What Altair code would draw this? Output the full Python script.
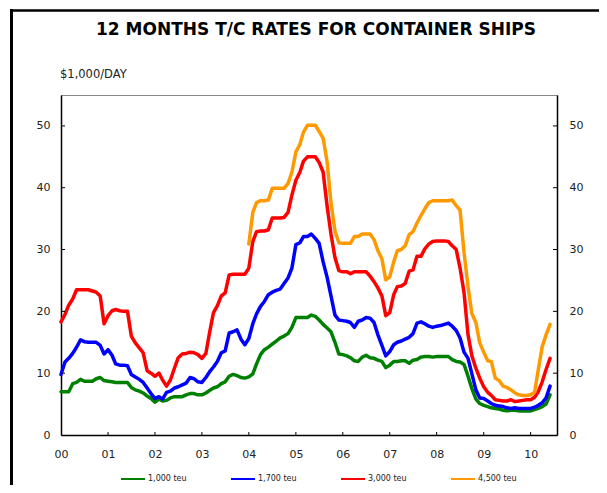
import altair as alt
import pandas as pd

# ---- data (monthly, Jan 2000 - Jun 2010) ----
MONTHS = pd.date_range("2000-01-01", periods=126, freq="MS")
SERIES = ["1,000 teu", "1,700 teu", "3,000 teu", "4,500 teu"]
COLORS = ["#008000", "#0000ff", "#ff0000", "#ff9900"]

TEU_1000 = [
    7.0, 7.0, 7.0, 8.3, 8.5, 9.0, 8.7, 8.7, 8.7, 9.1,
    9.3, 8.8, 8.7, 8.6, 8.5, 8.5, 8.5, 8.5, 7.7, 7.3,
    7.1, 6.8, 6.3, 5.9, 5.3, 5.8, 5.5, 5.6, 6.0, 6.2,
    6.2, 6.2, 6.5, 6.7, 6.7, 6.5, 6.5, 6.8, 7.2, 7.6,
    7.8, 8.3, 8.6, 9.5, 9.8, 9.6, 9.3, 9.2, 9.4, 9.9,
    11.5, 13.0, 13.8, 14.2, 14.7, 15.2, 15.7, 16.0, 16.4, 17.4,
    19.0, 19.0, 19.0, 19.0, 19.4, 19.2, 18.6, 17.9, 17.3, 16.7,
    15.0, 13.1, 13.0, 12.8, 12.5, 12.0, 11.9, 12.6, 12.9, 12.5,
    12.4, 12.1, 11.9, 10.9, 11.3, 11.9, 11.9, 12.0, 12.0, 11.6,
    12.1, 12.2, 12.6, 12.7, 12.7, 12.6, 12.7, 12.7, 12.7, 12.7,
    12.2, 11.9, 11.8, 11.4, 9.5, 7.5, 5.8, 5.1, 4.8, 4.6,
    4.4, 4.3, 4.2, 4.0, 3.9, 4.0, 4.0, 3.9, 3.9, 3.9,
    3.9, 4.1, 4.3, 4.6, 5.0, 6.5,
]
TEU_1700 = [
    9.8, 11.8, 12.4, 13.2, 14.2, 15.4, 15.1, 15.0, 15.0, 15.0,
    14.5, 13.1, 13.8, 12.9, 11.5, 11.3, 11.3, 11.2, 9.8, 9.4,
    9.0, 8.5, 7.6, 6.7, 5.9, 6.2, 5.8, 6.9, 7.1, 7.6,
    7.8, 8.1, 8.4, 9.3, 9.1, 8.6, 8.5, 9.3, 10.2, 11.0,
    11.9, 13.3, 13.6, 16.5, 16.7, 17.0, 15.5, 14.6, 15.6, 18.0,
    19.6, 20.8, 21.6, 22.7, 23.1, 23.4, 23.6, 24.5, 25.4, 27.0,
    30.8, 31.1, 32.1, 32.1, 32.5, 31.8, 31.0, 28.0, 25.5, 22.5,
    19.4, 18.6, 18.5, 18.4, 18.2, 17.4, 18.4, 18.6, 19.0, 18.9,
    18.2, 16.2, 14.5, 12.8, 13.5, 14.6, 15.0, 15.2, 15.5, 15.8,
    16.4, 18.1, 18.3, 18.0, 17.6, 17.4, 17.6, 17.7, 17.9, 18.1,
    17.6, 16.9, 15.7, 13.4, 12.4, 9.9, 7.3, 6.0, 5.9, 5.5,
    5.1, 4.8, 4.7, 4.6, 4.4, 4.3, 4.4, 4.3, 4.3, 4.3,
    4.3, 4.5, 4.8, 5.2, 6.0, 7.9,
]
TEU_3000 = [
    18.3, 19.5, 21.0, 22.0, 23.5, 23.5, 23.5, 23.5, 23.3, 23.1,
    22.5, 18.0, 19.3, 20.1, 20.3, 20.1, 20.0, 20.0, 16.0, 14.9,
    14.1, 13.3, 10.4, 10.0, 9.5, 10.0, 8.9, 7.9, 8.9, 10.8,
    12.5, 13.1, 13.2, 13.4, 13.3, 13.0, 12.4, 13.2, 16.5, 19.8,
    20.9, 22.5, 23.0, 25.9, 26.0, 26.0, 26.0, 26.0, 27.0, 31.3,
    32.9, 33.0, 33.0, 33.2, 35.1, 35.1, 35.1, 35.2, 36.0, 38.8,
    41.2, 42.5, 44.3, 45.0, 45.0, 45.0, 44.1, 42.5, 37.0, 32.5,
    28.7, 26.6, 26.4, 26.4, 26.1, 26.4, 26.4, 26.4, 26.4, 25.7,
    24.8, 23.8, 22.5, 19.3, 19.8, 22.7, 24.0, 24.1, 24.5, 26.5,
    26.7, 28.9, 28.9, 30.1, 30.9, 31.3, 31.4, 31.4, 31.4, 31.3,
    30.6, 30.0, 27.0, 23.0, 16.2, 12.8, 10.8, 9.2, 7.8, 6.9,
    6.4, 5.7, 5.6, 5.5, 5.5, 5.7, 5.4, 5.5, 5.6, 5.7,
    5.7, 6.1, 7.0, 8.6, 10.6, 12.4,
]
TEU_4500_START = 48  # series begins Jan 2004
TEU_4500 = [
    30.9, 36.0,
    37.6, 37.9, 37.9, 38.0, 39.9, 39.9, 39.9, 39.9, 40.7, 42.5,
    45.8, 47.0, 49.0, 50.1, 50.1, 50.1, 49.1, 48.0, 44.2, 37.6,
    33.0, 31.1, 31.0, 31.0, 31.0, 32.1, 32.1, 32.5, 32.5, 32.5,
    31.6, 29.8, 28.5, 25.1, 25.6, 28.0, 29.8, 30.0, 30.6, 32.4,
    32.9, 34.3, 35.5, 36.6, 37.6, 37.9, 37.9, 37.9, 37.9, 37.9,
    38.0, 37.1, 36.4, 29.5, 24.0, 19.6, 18.2, 14.9, 13.4, 12.0,
    11.9, 9.2, 8.8, 7.9, 7.7, 7.3, 6.8, 6.5, 6.4, 6.4,
    6.5, 6.9, 10.5, 14.3, 16.2, 17.9,
]
YEAR_TICKS = list(range(2000, 2011))
Y_TICKS = [0, 10, 20, 30, 40, 50]
TITLE = "12 MONTHS T/C RATES FOR CONTAINER SHIPS"
UNIT = "$1,000/DAY"

rows = []
for name, vals, start in [
    (SERIES[0], TEU_1000, 0),
    (SERIES[1], TEU_1700, 0),
    (SERIES[2], TEU_3000, 0),
    (SERIES[3], TEU_4500, TEU_4500_START),
]:
    for i, v in enumerate(vals):
        rows.append({"date": MONTHS[start + i], "value": v, "series": name})
df = pd.DataFrame(rows)

W, H = 496, 340
FONT = "DejaVu Sans"
x_domain = [alt.DateTime(year=2000, month=1, date=1), alt.DateTime(year=2010, month=7, date=25)]
x_scale = alt.Scale(domain=x_domain)
y_scale = alt.Scale(domain=[0, 55], nice=False, zero=True)

x_axis = alt.Axis(
    values=[alt.DateTime(year=y, month=1, date=1) for y in YEAR_TICKS],
    format="%y", title=None, ticks=False, labelPadding=13,
    labelFlush=False, labelOverlap=False, domainColor="black", domainWidth=1.5,
)

lines = alt.Chart(df).mark_line(strokeWidth=3.5, strokeJoin="round", strokeCap="round").encode(
    x=alt.X("date:T", scale=x_scale, axis=x_axis),
    y=alt.Y("value:Q", scale=y_scale, axis=alt.Axis(
        values=Y_TICKS, orient="left", title=None, ticks=False, labelPadding=11,
        labelFlush=False, domainColor="black", domainWidth=1.5)),
    color=alt.Color("series:N", scale=alt.Scale(domain=SERIES, range=COLORS), legend=alt.Legend(
        orient="none", legendX=59, legendY=371, direction="horizontal", columns=4,
        symbolType="stroke", symbolSize=576, symbolStrokeWidth=2, labelFontSize=8,
        labelFont=FONT, labelColor="#222", labelOffset=2, columnPadding=40, padding=0,
        title=None, gridAlign="all")),
)

ytick_df = pd.DataFrame({"value": Y_TICKS[1:]})
left_ticks = alt.Chart(ytick_df).mark_rule(color="black", strokeWidth=1).encode(
    y=alt.Y("value:Q", scale=y_scale, axis=None),
    x=alt.value(0), x2=alt.value(4),
)
right_ticks = alt.Chart(ytick_df).mark_rule(color="black", strokeWidth=1).encode(
    y=alt.Y("value:Q", scale=y_scale, axis=alt.Axis(
        values=Y_TICKS, orient="right", title=None, ticks=False, labelPadding=12,
        labelFlush=False, domainColor="black", domainWidth=1.5)),
    x=alt.value(W - 4), x2=alt.value(W),
)
xtick_df = pd.DataFrame({"date": [pd.Timestamp(year=y, month=1, day=1) for y in YEAR_TICKS[1:]]})
x_ticks = alt.Chart(xtick_df).mark_rule(color="black", strokeWidth=1).encode(
    x=alt.X("date:T", scale=x_scale, axis=x_axis),
    y=alt.value(H - 3), y2=alt.value(H),
)

title = alt.Chart(pd.DataFrame({"t": [TITLE]})).mark_text(
    font=FONT, fontWeight="bold", fontSize=17, align="center", baseline="alphabetic", color="black"
).encode(text="t:N", x=alt.value(255), y=alt.value(-60))
unit = alt.Chart(pd.DataFrame({"t": [UNIT]})).mark_text(
    font=FONT, fontSize=11.5, align="left", baseline="alphabetic", color="#222"
).encode(text="t:N", x=alt.value(-1), y=alt.value(-17))

frame_left = alt.Chart(pd.DataFrame({"k": [0]})).mark_rule(color="black", strokeWidth=3).encode(
    x=alt.value(-49.5), y=alt.value(-86), y2=alt.value(H + 60))
frame_top = alt.Chart(pd.DataFrame({"k": [0]})).mark_rule(color="black", strokeWidth=2.5).encode(
    x=alt.value(-51), x2=alt.value(W + 60), y=alt.value(-84.5))

chart = alt.layer(
    frame_left, frame_top, title, unit, lines, left_ticks, right_ticks, x_ticks
).resolve_scale(y="independent").properties(
    width=W, height=H,
    autosize=alt.AutoSizeParams(type="none"),
    padding={"left": 53, "top": 87, "right": 42, "bottom": 50},
    background="white",
).configure_view(stroke="#888", strokeWidth=1).configure_axis(
    labelFont=FONT, labelFontSize=11, labelColor="#222", grid=False
)

chart.save("out.html", embed_options={"renderer": "svg", "actions": False})
